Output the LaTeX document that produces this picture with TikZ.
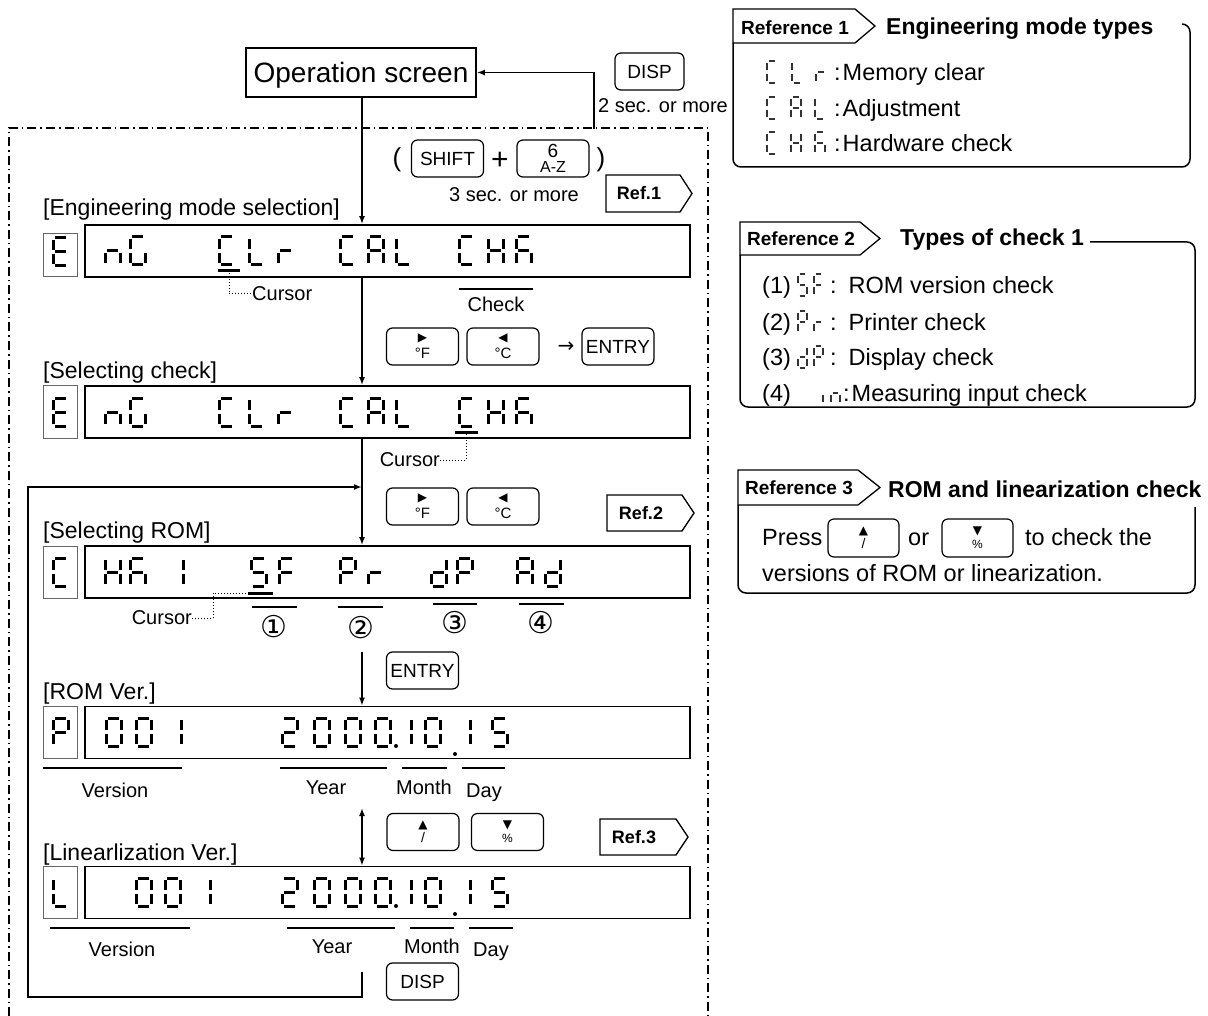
\documentclass[tikz,border=0pt]{standalone}
\usepackage{fontspec}
\setmainfont{Liberation Sans}
\newfontfamily\dejavu{DejaVu Sans}
\usetikzlibrary{arrows.meta}
\newcommand{\fs}[1]{\fontsize{#1}{#1}\selectfont}
\def\sgw{15}\def\sgh{28}\def\sgm{14}\def\sgap{1.9}
\def\segXa{\draw[sg] (\sgap,0) -- (\sgw-\sgap,0);}
\def\segXb{\draw[sg] (\sgw,\sgap) -- (\sgw,\sgm-\sgap);}
\def\segXc{\draw[sg] (\sgw,\sgm+\sgap) -- (\sgw,\sgh-\sgap);}
\def\segXd{\draw[sg] (\sgap,\sgh) -- (\sgw-\sgap,\sgh);}
\def\segXe{\draw[sg] (0,\sgm+\sgap) -- (0,\sgh-\sgap);}
\def\segXf{\draw[sg] (0,\sgap) -- (0,\sgm-\sgap);}
\def\segXg{\draw[sg] (\sgap,\sgm) -- (\sgw-\sgap,\sgm);}
\newcommand{\glyph}[3]{\begin{scope}[shift={(#1,#2)}]\foreach \s in #3 {\csname segX\s\endcsname}\end{scope}}
\def\sgE{a,d,e,f,g}
\def\sgn{c,e,g}
\def\sgG{a,c,d,e,f}
\def\sgC{a,d,e,f}
\def\sgL{d,e,f}
\def\sgr{e,g}
\def\sgA{a,b,c,e,f,g}
\def\sgH{b,c,e,f,g}
\def\sgK{a,c,e,f,g}
\def\sgS{a,c,d,f,g}
\def\sgF{a,e,f,g}
\def\sgP{a,b,e,f,g}
\def\sgd{b,c,d,e,g}
\def\sgi{e}
\def\sgZero{a,b,c,d,e,f}
\def\sgOne{b,c}
\def\sgTwo{a,b,d,e,g}
\def\sgFive{a,c,d,f,g}
\newcommand{\daterow}[1]{\glyph{282}{#1}{\sgTwo}\glyph{314}{#1}{\sgZero}\glyph{345}{#1}{\sgZero}\glyph{375}{#1}{\sgZero}\fill (396,#1+28) circle (2);\glyph{396}{#1}{\sgOne}\glyph{425}{#1}{\sgZero}\fill (455,#1+36) circle (2);\glyph{455}{#1}{\sgOne}\glyph{492}{#1}{\sgFive}}
\newcommand{\engrow}[1]{\glyph{105}{#1}{\sgn}\glyph{130}{#1}{\sgG}\glyph{219}{#1}{\sgC}\glyph{249}{#1}{\sgL}\glyph{278}{#1}{\sgr}\glyph{340}{#1}{\sgC}\glyph{368}{#1}{\sgA}\glyph{396}{#1}{\sgL}\glyph{459}{#1}{\sgC}\glyph{488}{#1}{\sgH}\glyph{516}{#1}{\sgK}}
\begin{document}
\begin{tikzpicture}[x=1pt,y=-1pt,
 sg/.style={line width=3pt},
 arr/.style={line width=1.6pt,-{Latex[length=8pt,width=6pt]}},
 darr/.style={line width=1.6pt,{Latex[length=8pt,width=6pt]}-{Latex[length=8pt,width=6pt]}},
 ln/.style={line width=1.6pt},
 lcd/.style={draw,line width=1.8pt,minimum width=605pt,minimum height=52pt,inner sep=0pt},
 ind/.style={draw=black!60,line width=1pt,minimum width=34pt,minimum height=52pt,inner sep=0pt},
 key/.style={draw,rounded corners=6pt,line width=1.2pt,minimum width=72pt,minimum height=37pt,inner sep=0pt,align=center,font=\fs{19}},
 lbl/.style={anchor=base west,inner sep=0pt,font=\fs{23}},
 txt/.style={anchor=base,inner sep=0pt,font=\fs{20}},
 rtxt/.style={anchor=base west,inner sep=0pt,font=\fs{23.5}},
 ttl/.style={anchor=base west,inner sep=0pt,font=\bfseries\fs{23}},
 tag/.style={draw,line width=1.3pt,fill=white},
 tagt/.style={inner sep=0pt,font=\bfseries\fs{18}},
 rtagt/.style={inner sep=0pt,font=\bfseries\fs{19}},
 rbox/.style={draw,line width=1.5pt,rounded corners=8pt},
 ddash/.style={line width=1.1pt,dash pattern=on 9pt off 4pt on 1.5pt off 4pt},
 cur/.style={dotted,line width=1pt},
 ubar/.style={line width=3pt},
 circ/.style={inner sep=0pt,font=\dejavu\fs{30}}
 ]
\useasboundingbox (0,0) rectangle (1208,1016);
% ---------- top ----------
\node[draw,line width=1.8pt,minimum width=230pt,minimum height=49pt,inner sep=0pt,text depth=0pt,font=\fs{28}] (op) at (361,72.5) {Operation screen};
\node[key,minimum width=69pt] (kd1) at (649.5,71.5) {DISP};
\node[txt] (t2s) at (663,113) {2 sec. or more};
\coordinate (ret) at (594,129);
\draw[arr] (ret) |- (op.east);
\draw[ddash] (9,1016) -- (9,128) -- (708,128) -- (708,1016);
\coordinate (sp) at (362,0);
% ---------- LCD boxes ----------
\node[lcd] (l1) at (387.5,251) {};
\node[lcd] (l2) at (387.5,412) {};
\node[lcd] (l3) at (387.5,572) {};
\node[lcd] (l4) at (387.5,732.5) {};
\node[lcd] (l5) at (387.5,892.5) {};
\node[ind,minimum height=43pt] (i1) at (60,255.5) {};
\node[ind] (i2) at (60,412) {};
\node[ind] (i3) at (60,572) {};
\node[ind] (i4) at (60,732.5) {};
\node[ind] (i5) at (60,892.5) {};
% ---------- flow arrows ----------
\draw[arr] (sp |- op.south) -- (sp |- l1.north);
\draw[arr] (sp |- l1.south) -- (sp |- l2.north);
\draw[arr] (sp |- l2.south) -- (sp |- l3.north);
\coordinate (s34) at (362,652);
\draw[arr] (s34) -- (sp |- l4.north);
\coordinate (s45) at (362,808);
\draw[darr] (s45) -- (sp |- l5.north);
\coordinate (lpA) at (362,972);
\coordinate (lpB) at (28,997);
\coordinate (lpC) at (362,487);
\draw[arr] (lpA) |- (lpB) |- (lpC);
% ---------- labels ----------
\node[lbl] (lb1) at (43,216) {[Engineering mode selection]};
\node[lbl] (lb2) at (43,378) {[Selecting check]};
\node[lbl] (lb3) at (43,538) {[Selecting ROM]};
\node[lbl] (lb4) at (43,699) {[ROM Ver.]};
\node[lbl] (lb5) at (43,860) {[Linearlization Ver.]};
% ---------- SHIFT + 6 ----------
\node[txt,font=\fs{26}] (lpar) at (397,167) {(};
\node[key] (ksh) at (447.5,158.5) {SHIFT};
\node[txt,font=\fs{30}] (plus) at (500,170) {+};
\node[key] (k6) at (553,158.5) {{\fs{19}6}\\[-4pt]{\fs{16}A-Z}};
\node[txt,font=\fs{26}] (rpar) at (601,167) {)};
\node[txt] (t3s) at (514,202) {3 sec. or more};
\draw[tag] (606,175) -- (680,175) -- (692,193.5) -- (680,212) -- (606,212) -- cycle;
\node[tagt] (rf1) at (639,193.5) {Ref.1};
% ---------- LCD1 ----------
\glyph{53}{238}{\sgE}
\engrow{237}
\draw[ubar] (218,271) -- (240,271);
\node[txt,anchor=west] (cu1) at (252,294) {Cursor};
\draw[cur] (229,273) |- (cu1.west);
\node[txt] (chk) at (496,312) {Check};
\draw[ln] (459,289) -- (533,289);
\node[key] (kf1) at (422.5,346.5) {{\dejavu\fs{12}▶}\\[-2pt]{\fs{15}°F}};
\node[key] (kc1) at (503,346.5) {{\dejavu\fs{12}◀}\\[-2pt]{\fs{15}°C}};
\node[inner sep=0pt,font=\dejavu\fs{20}] (ar1) at (566,347) {→};
\node[key] (ke1) at (618,346.5) {ENTRY};
% ---------- LCD2 ----------
\glyph{53}{398}{\sgE}
\engrow{398}
\draw[ubar] (455,432) -- (478,432);
\node[txt,anchor=east] (cu2) at (440,460) {Cursor};
\draw[cur] (466,434) |- (cu2.east);
\node[key] (kf2) at (422.5,506.5) {{\dejavu\fs{12}▶}\\[-2pt]{\fs{15}°F}};
\node[key] (kc2) at (503,506.5) {{\dejavu\fs{12}◀}\\[-2pt]{\fs{15}°C}};
\draw[tag] (607,495) -- (682,495) -- (694,513) -- (682,531) -- (607,531) -- cycle;
\node[tagt] (rf2) at (641,513) {Ref.2};
% ---------- LCD3 ----------
\glyph{53}{558}{\sgC}
\glyph{105}{558}{\sgH}\glyph{130}{558}{\sgK}\glyph{168}{558}{\sgOne}
\glyph{251}{558}{\sgS}\glyph{279}{558}{\sgF}
\glyph{340}{558}{\sgP}\glyph{368}{558}{\sgr}
\glyph{431}{558}{\sgd}\glyph{457}{558}{\sgP}
\glyph{517}{558}{\sgA}\glyph{545}{558}{\sgd}
\draw[ubar] (248,593) -- (273,593);
\node[txt,anchor=east] (cu3) at (192,618) {Cursor};
\draw[cur] (cu3.east) -| (213,593) -- (248,593);
\draw[ln] (252,607) -- (297,607);
\draw[ln] (338,607) -- (383,607);
\draw[ln] (433,604) -- (477,604);
\draw[ln] (519,604) -- (564,604);
\node[circ] (n1) at (274,627) {①};
\node[circ] (n2) at (361,628) {②};
\node[circ] (n3) at (455,623) {③};
\node[circ] (n4) at (541,623) {④};
\node[key] (ke2) at (422.5,670.5) {ENTRY};
% ---------- LCD4 ----------
\glyph{53}{718}{\sgP}
\glyph{106}{718}{\sgZero}\glyph{136}{718}{\sgZero}\glyph{166}{718}{\sgOne}
\daterow{718}
\draw[ln] (43,768) -- (182,768);
\draw[ln] (280,768) -- (387,768);
\draw[ln] (402,768) -- (447,768);
\draw[ln] (462,768) -- (505,768);
\node[txt] (v4) at (115,797) {Version};
\node[txt] (y4) at (326,794) {Year};
\node[txt] (m4) at (424,794) {Month};
\node[txt] (dy4) at (484,797) {Day};
\node[key] (ku) at (423,832) {{\dejavu\fs{12}▲}\\[-5pt]{\fs{14}/}};
\node[key] (kdn) at (507.5,832) {{\dejavu\fs{12}▼}\\[-5pt]{\fs{12}\%}};
\draw[tag] (600,819) -- (676,819) -- (688,837) -- (676,855) -- (600,855) -- cycle;
\node[tagt] (rf3) at (634,837) {Ref.3};
% ---------- LCD5 ----------
\glyph{53}{878}{\sgL}
\glyph{136}{878}{\sgZero}\glyph{165}{878}{\sgZero}\glyph{195}{878}{\sgOne}
\daterow{878}
\draw[ln] (50,928) -- (190,928);
\draw[ln] (287,928) -- (395,928);
\draw[ln] (410,928) -- (454,928);
\draw[ln] (469,928) -- (513,928);
\node[txt] (v5) at (122,956) {Version};
\node[txt] (y5) at (332,953) {Year};
\node[txt] (m5) at (432,953) {Month};
\node[txt] (dy5) at (491,956) {Day};
\node[key] (kd2) at (422.5,981.5) {DISP};
% ---------- Reference 1 ----------
\draw[rbox] (1182,24) -- (1190,24) -- (1190,167) -- (733,167) -- (733,43);
\draw[tag] (733,9) -- (855,9) -- (875,26) -- (855,43) -- (733,43) -- cycle;
\node[rtagt] (R1) at (795,27.5) {Reference 1};
\node[ttl] (T1) at (886,35) {Engineering mode types};
\begin{scope}[sg/.style={line width=1.8pt,black!80}]
\def\sgw{10}\def\sgh{22}\def\sgm{11}\def\sgap{1.6}
\glyph{767}{61}{\sgC}\glyph{792}{61}{\sgL}\glyph{816}{61}{\sgr}
\glyph{767}{97}{\sgC}\glyph{791}{97}{\sgA}\glyph{815}{97}{\sgL}
\glyph{767}{132}{\sgC}\glyph{791}{132}{\sgH}\glyph{815}{132}{\sgK}
\def\sgw{9}
\glyph{798}{274}{\sgS}\glyph{814}{274}{\sgF}
\glyph{798}{311}{\sgP}\glyph{814}{311}{\sgr}
\glyph{798}{346}{\sgd}\glyph{814}{346}{\sgP}
\glyph{823}{382}{\sgi}\glyph{831}{382}{\sgn}
\end{scope}
\node[rtxt] (a1) at (834,80.5) {:\hspace{2pt}Memory clear};
\node[rtxt] (a2) at (834,116.5) {:\hspace{2pt}Adjustment};
\node[rtxt] (a3) at (834,151.5) {:\hspace{2pt}Hardware check};
% ---------- Reference 2 ----------
\draw[rbox] (1090,242) -- (1195,242) -- (1195,407) -- (740,407) -- (740,255);
\draw[tag] (740,222) -- (860,222) -- (880,238.5) -- (860,255) -- (740,255) -- cycle;
\node[rtagt] (R2) at (801,239) {Reference 2};
\node[ttl] (T2) at (900,246) {Types of check 1};
\node[rtxt] (p1) at (762,293.5) {(1)};
\node[rtxt] (b1) at (830,293.5) {:\hspace{12pt}ROM version check};
\node[rtxt] (p2) at (762,330.5) {(2)};
\node[rtxt] (b2) at (830,330.5) {:\hspace{12pt}Printer check};
\node[rtxt] (p3) at (762,365.5) {(3)};
\node[rtxt] (b3) at (830,365.5) {:\hspace{12pt}Display check};
\node[rtxt] (p4) at (762,401.5) {(4)};
\node[rtxt] (b4) at (843,401.5) {:\hspace{2pt}Measuring input check};
% ---------- Reference 3 ----------
\draw[rbox] (1195,507) -- (1195,593) -- (738,593) -- (738,505);
\draw[tag] (738,470) -- (858,470) -- (880,487.5) -- (858,505) -- (738,505) -- cycle;
\node[rtagt] (R3) at (799,488) {Reference 3};
\node[ttl] (T3) at (888,497) {ROM and linearization check};
\node[rtxt] (pr) at (762,545.5) {Press};
\node[key,minimum width=71pt,minimum height=38pt] (ku3) at (863.5,538) {{\dejavu\fs{12}▲}\\[-5pt]{\fs{14}/}};
\node[rtxt] (or) at (908,545.5) {or};
\node[key,minimum width=71pt,minimum height=38pt] (kd3) at (977.5,538) {{\dejavu\fs{12}▼}\\[-5pt]{\fs{12}\%}};
\node[rtxt] (tc) at (1025,545.5) {to check the};
\node[rtxt] (vr) at (762,581.5) {versions of ROM or linearization.};
\end{tikzpicture}
\end{document}
